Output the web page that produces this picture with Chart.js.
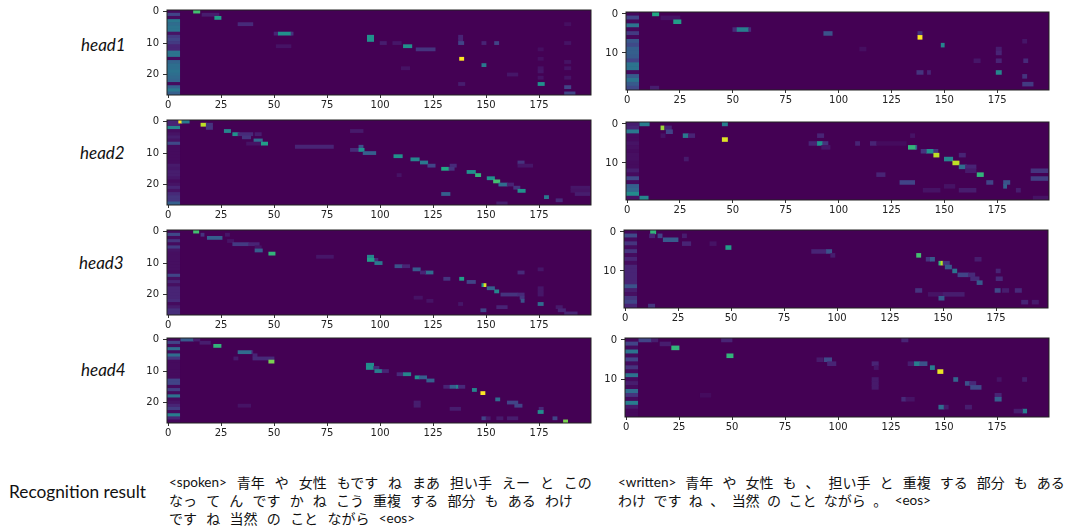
<!DOCTYPE html>
<html>
<head>
<meta charset="utf-8">
<script src="https://cdn.jsdelivr.net/npm/chart.js@4/dist/chart.umd.min.js"></script>
<style>
  html, body { margin: 0; background: #fff; }
  #page { position: relative; width: 1070px; height: 527px; overflow: hidden; }
  canvas { position: absolute; filter: blur(0.5px); }
  .head { position: absolute; font: italic 17px Lato, sans-serif; color: #111; }
  .label { position: absolute; font: 17.3px Lato, sans-serif; color: #111; white-space: nowrap; }
  .line { position: absolute; display: flex; justify-content: space-between; white-space: nowrap;
          font: 14px "Noto Sans CJK JP", sans-serif; line-height: 18px; color: #111; }
  .line .tag { font: 13.5px Lato, sans-serif; line-height: 18px; }
</style>
</head>
<body>
<div id="page"></div>
<script>
// tick labels
const xTicks = [0, 25, 50, 75, 100, 125, 150, 175];
const yTicksSpoken = [0, 10, 20];
const yTicksWritten = [0, 10];

// text
const headNames = ["head1", "head2", "head3", "head4"];
const resultLabel = "Recognition result";
const spokenLines = [
  ["<spoken>", "青年", "や", "女性", "もです", "ね", "まあ", "担い手", "えー", "と", "この"],
  ["なっ", "て", "ん", "です", "か", "ね", "こう", "重複", "する", "部分", "も", "ある", "わけ"],
  ["です", "ね", "当然", "の", "こと", "ながら", "<eos>"]
];
const writtenLines = [
  ["<written>", "青年", "や", "女性", "も", "、", "担い手", "と", "重複", "する", "部分", "も", "ある"],
  ["わけ", "です", "ね", "、", "当然", "の", "こと", "ながら", "。", "<eos>"]
];

// weight per row in the first few frames (row index = position)
const head1SpokenBand = [.02,.2,.03,.4,.35,.38,.38,.05,.17,.2,.17,.1,.1,.38,.38,.03,.32,.36,.36,.38,.36,.34,.32,.03,.3,.4,.3];
const head1WrittenBand = [.02,.2,.02,.38,.02,.17,.02,.27,.22,.3,.3,.28,.2,.38,.38,.03,.28,.38,.28,.22];
const head2SpokenBand = [.1,.1,.45,.03,.05,.08,.05,.22,.03,.03,.03,.03,.03,.03,.07,.06,.08,.08,.06,.03,.05,.1,.05,.12,.15,.15,.3];
const head2WrittenBand = [.08,.1,.4,.03,.03,.05,.04,.03,.04,.04,.03,.03,.08,.03,.22,.03,.3,.33,.48,.05];
const head3SpokenBand = [.02,.22,.03,.15,.03,.17,.05,.04,.04,.04,.04,.04,.04,.03,.2,.04,.1,.04,.1,.1,.1,.1,.12,.03,.07,.13,.13];
const head3WrittenBand = [.02,.22,.03,.15,.03,.15,.03,.1,.03,.1,.1,.1,.1,.1,.25,.08,.04,.15,.2,.1];
const head4SpokenBand = [.02,.2,.03,.35,.03,.35,.15,.03,.03,.03,.03,.03,.03,.2,.2,.03,.18,.03,.37,.03,.05,.1,.17,.03,.42,.1,.02];
const head4WrittenBand = [.02,.2,.03,.38,.03,.2,.03,.15,.03,.38,.03,.08,.03,.35,.15,.03,.42,.07,.02,.02];

// attention runs: [row, first frame, last frame, weight]
const head1Spoken = [
  [0,12,15,.7],[1,16,24,.08],[2,22,25,.55],[4,33,40,.12],[7,50,52,.1],[7,52,58,.5],[7,58,59,.15],
  [8,94,97,.5],[9,94,97,.5],[10,100,103,.08],[10,106,110,.06],[11,51,58,.05],[11,111,115,.5],
  [12,117,126,.15],[18,110,114,.05],[8,137,139,.1],[9,137,139,.1],[10,137,139.5,.2],[10,148,150,.1],
  [10,154,156,.2],[15,137.5,139.5,1],[17,148,150,.4],[20,160,165,.06],[23,174.5,177.5,.5],
  [23,137,140,.08],[24,187,190,.2],[26,187,192,.2],[12,174.5,177,.04],[15,174.5,177,.04],
  [18,174.5,177,.05],[19,174.5,177,.06],[21,174.5,177,.05],[4,187,190,.04],[10,187,190,.05],
  [16,187,190,.05],[18,187,190,.05],[21,187,190,.05]
];
const head1Written = [
  [0,12,15,.6],[1,16,25,.05],[2,22,25.5,.55],[4,50,52,.12],[4,52,57.5,.42],[4,57.5,58.5,.12],
  [5,93,97,.25],[5,137.5,139.5,.15],[6,137.5,139.5,1],[8,148.5,150,.45],[7,187,189,.06],
  [9,174.5,177,.08],[10,174.5,177,.1],[12,174.5,177,.1],[12,187.5,189.5,.12],[12,164,167,.06],
  [9,110,113,.04],[15,137,140,.15],[15,142,143.5,.1],[15,174.5,177,.45],[16,187,189,.15],
  [18,187,192,.17],[19,11,15,.08]
];
const head2Spoken = [
  [0,5,6.5,1],[0,6.5,10,.4],[1,15.5,18,.9],[1,18,21,.15],[2,18,21,.15],[3,26.5,29.5,.45],
  [3,86,92,.07],[4,30.5,33.5,.5],[4,33,40,.12],[4,41,44,.08],[5,35,39,.15],[6,40.5,44.5,.35],
  [7,37,44,.05],[7,44,47,.55],[8,60,78,.1],[8,90,92,.25],[9,86,90,.12],[9,90,92.5,.5],
  [10,92,98,.3],[11,106.5,110.5,.5],[12,114.5,118.5,.45],[13,119,122.5,.4],[13,165,168,.15],
  [14,122.5,126,.2],[14,133,136,.12],[14,165,172,.06],[15,129,132.5,.6],[15,132.5,135,.15],
  [16,141,145,.5],[17,145,147.5,.65],[17,108,110,.05],[18,150.5,154,.5],[19,153.5,156.5,.7],
  [20,156,160,.35],[20,160,163,.1],[21,163,166,.15],[21,190,199,.06],[22,165,168.5,.5],
  [22,190,199,.05],[23,129,133,.3],[23,192,199,.08],[24,177.5,179.5,.4],[25,183,186,.12],
  [26,155,160,.08]
];
const head2Written = [
  [0,6,10.5,.42],[0,45,47.5,.42],[1,16,17.5,.85],[1,18,21,.1],[2,18.5,21.5,.2],[3,26.5,29,.4],
  [3,29,32,.1],[3,16,18,.05],[3,90,93,.1],[3,134,136,.05],[4,45,47.5,.95],[5,86,90,.1],
  [5,90,92.5,.5],[5,92.5,95,.15],[5,108,110,.1],[5,115,118,.1],[5,118,132,.03],[6,92,96,.06],
  [6,133,136.5,.65],[6,136.5,137,.3],[7,141.5,145,.5],[7,139,141.5,.15],[7,145,147,.15],
  [8,145,147.5,.9],[8,157,160,.1],[9,150,154,.45],[9,27,29,.07],[10,154,157,.9],[11,157,160.5,.35],
  [11,160,165,.1],[12,160,165,.07],[12,191,199,.15],[13,165.5,168.5,.65],[13,118,122,.1],
  [14,191,199,.18],[15,129,136,.2],[15,170,173,.2],[15,178,181,.25],[16,178,179.5,.3],
  [16,150,155,.05],[17,184,186,.08],[17,140,148,.05],[17,157,165,.08],[19,6,10,.45],[19,192,199,.05]
];
const head3Spoken = [
  [0,12,14.5,.7],[1,15.5,17,.15],[1,27,29,.06],[2,18.5,25.5,.3],[3,28,31,.05],[4,30.5,38,.17],
  [4,38,43,.1],[5,41,44,.05],[6,41,44.5,.3],[7,47.5,50.5,.65],[8,70,78,.06],[8,94,97,.45],
  [9,94,97.5,.55],[9,97.5,99,.12],[10,97.5,101,.4],[11,107,110.5,.25],[11,110.5,114,.1],
  [12,115.5,119,.28],[13,121.5,125,.35],[13,119,121.5,.1],[13,165,168,.12],[15,130,133,.15],
  [15,137.5,139.5,.55],[16,141,145,.2],[17,148,149,.5],[17,149,150,.95],[18,150.5,154,.3],
  [19,154,156,.45],[20,157,165,.15],[20,165,168,.12],[21,166,168,.15],[22,166.5,168,.25],
  [23,174.5,177,.35],[12,174.5,177,.06],[18,174.5,177,.06],[19,174.5,177,.06],[20,174.5,177,.06],
  [25,147.5,150,.2],[24,155,160,.1],[24,183,186,.07],[25,184,187.5,.1],[26,187,193,.1],
  [23,137,139,.06],[21,116,120,.05],[22,122,125,.05]
];
const head3Written = [
  [0,12,14.5,.65],[1,15.5,17.5,.2],[1,11.5,14,.1],[1,27,29,.08],[2,18,25,.28],[3,27,31,.1],
  [3,40,43,.05],[4,47.5,50,.55],[5,88,95,.1],[5,95,97.5,.25],[6,97,99,.08],[6,137.5,139.5,.7],
  [7,142,144,.15],[7,144,146,.28],[7,165,168,.08],[8,148,149,.65],[8,149,150,.9],[8,150,153,.15],
  [9,151,154,.28],[10,154.5,156.5,.38],[10,175,177,.1],[11,157,162,.2],[11,162,165,.12],
  [12,163,167,.12],[12,175,178,.12],[13,166,168.5,.28],[15,137,140,.15],[15,174.5,177,.22],
  [15,178,181,.08],[15,184,187,.12],[16,143,150,.05],[16,150,160,.08],[17,148,150.5,.28],
  [18,187,190,.1],[18,192,195,.07],[19,11,14,.15]
];
const head4Spoken = [
  [0,6,12,.28],[0,12,15,.08],[1,15,20,.08],[2,21.5,25,.65],[4,33,39.5,.35],[4,39.5,40,.1],
  [5,40,42,.1],[6,31,33,.07],[6,40,50,.12],[7,47.5,50,.8],[8,93.5,97,.48],[9,93.5,97,.5],
  [9,97,99.5,.12],[10,97.5,101,.42],[10,101,104,.1],[11,108,111,.12],[11,111,114.5,.45],
  [12,116.5,118.5,.5],[12,118.5,122,.3],[13,122,125.5,.3],[15,130,133,.1],[15,133,136,.3],
  [15,136,137,.45],[15,137,140,.12],[16,143.5,145.5,.45],[17,147.5,149.5,1],[19,154.5,156.5,.35],
  [20,160,165,.2],[20,116,119,.08],[21,163.5,167,.2],[21,116,119,.08],[21,33,39,.05],
  [22,175,177,.12],[22,133,138,.08],[23,174.5,177,.48],[25,148,150,.2],[25,150,152,.07],
  [25,155,158,.07],[25,160,165,.08],[25,181.5,183.5,.2],[26,186.5,188.5,.8]
];
const head4Written = [
  [0,6,12,.2],[0,12,15,.08],[0,45,50,.1],[0,130,133,.1],[1,16,21,.08],[2,21.5,25,.65],
  [4,47.5,50.5,.65],[5,90,93,.07],[5,93.5,97,.22],[6,95,99,.1],[6,116,119,.1],[6,133,136,.08],
  [6,136,138.5,.42],[6,138.5,142,.25],[7,143.5,145.5,.42],[7,117,119,.06],[8,147,149.5,.97],
  [10,154.5,156.5,.32],[10,116,119,.07],[10,175,177,.05],[10,187,189,.08],[11,160,162.5,.25],
  [11,162,165,.12],[11,116,119,.07],[12,162.5,167.5,.22],[12,116,119,.07],[14,174,177,.1],
  [14,35,40,.03],[15,174,177,.3],[15,130,132,.12],[15,132,136,.05],[17,147.5,150,.35],
  [17,150,152,.07],[17,160,163,.08],[18,187,189,.42],[18,183,187,.08]
];

const viridis = ["#440154","#482475","#414487","#355f8d","#2a788e","#21918c","#22a884","#44bf70","#7ad151","#bddf26","#fde725"];

function viridisColor(v) {
  const p = Math.min(v, 1) * 10;
  const i = Math.min(Math.floor(p), 9);
  const t = p - i;
  const a = parseInt(viridis[i].slice(1), 16);
  const b = parseInt(viridis[i + 1].slice(1), 16);
  const ch = (s) => Math.round(((a >> s) & 255) * (1 - t) + ((b >> s) & 255) * t);
  return `rgb(${ch(16)},${ch(8)},${ch(0)})`;
}

// fills the plot with the colormap's zero and draws the frame
const framePlugin = {
  id: "frame",
  beforeDatasetsDraw(chart) {
    const { ctx, chartArea: a } = chart;
    ctx.save();
    ctx.fillStyle = viridis[0];
    ctx.fillRect(a.left, a.top, a.width, a.height);
    ctx.restore();
  },
  afterDatasetsDraw(chart) {
    const { ctx, chartArea: a } = chart;
    ctx.save();
    ctx.strokeStyle = "#222";
    ctx.lineWidth = 1;
    ctx.strokeRect(a.left, a.top, a.width, a.height);
    ctx.restore();
  },
};

const page = document.getElementById("page");

function drawPanel(band, runs, yTicks, left, top, width, height) {
  const padLeft = 30, padTop = 9, padRight = 12, axisBottom = 18;
  const canvas = document.createElement("canvas");
  canvas.width = width + padLeft + padRight;
  canvas.height = height + padTop + axisBottom;
  canvas.style.left = left - padLeft + "px";
  canvas.style.top = top - padTop + "px";
  page.appendChild(canvas);

  const bars = band.map((v, row) => ({ x: [-0.5, 5.5], y: row, v: v }));
  runs.forEach((r) => bars.push({ x: [r[1], r[2]], y: r[0], v: r[3] }));

  new Chart(canvas, {
    type: "bar",
    data: {
      datasets: [{
        data: bars,
        backgroundColor: (c) => viridisColor(c.raw.v),
        borderWidth: 0,
        barPercentage: 1,
        categoryPercentage: 1,
      }],
    },
    options: {
      indexAxis: "y",
      responsive: false,
      animation: false,
      devicePixelRatio: 1,
      layout: { padding: { top: padTop, right: padRight, left: 0, bottom: 0 } },
      plugins: { legend: { display: false }, tooltip: { enabled: false } },
      scales: {
        x: {
          type: "linear",
          min: -0.5,
          max: 199.5,
          afterBuildTicks: (s) => { s.ticks = xTicks.map((v) => ({ value: v })); },
          afterFit: (s) => { s.height = axisBottom; },
          grid: { drawOnChartArea: false, tickLength: 3, color: "#333" },
          border: { display: false },
          ticks: { color: "#222", font: { family: "DejaVu Sans", size: 10 }, padding: 1, maxRotation: 0, autoSkip: false },
        },
        y: {
          type: "linear",
          reverse: true,
          offset: false,
          min: -0.5,
          max: band.length - 0.5,
          afterBuildTicks: (s) => { s.ticks = yTicks.map((v) => ({ value: v })); },
          afterFit: (s) => { s.width = padLeft; },
          grid: { drawOnChartArea: false, offset: false, tickLength: 4, color: "#333" },
          border: { display: false },
          ticks: { color: "#222", font: { family: "DejaVu Sans", size: 10 }, padding: 4, autoSkip: false },
        },
      },
    },
    plugins: [framePlugin],
  });
}

drawPanel(head1SpokenBand, head1Spoken, yTicksSpoken, 167, 9, 424, 86);
drawPanel(head1WrittenBand, head1Written, yTicksWritten, 626, 11, 423, 79);
drawPanel(head2SpokenBand, head2Spoken, yTicksSpoken, 167, 119, 424, 86);
drawPanel(head2WrittenBand, head2Written, yTicksWritten, 626, 121, 423, 79);
drawPanel(head3SpokenBand, head3Spoken, yTicksSpoken, 167, 229, 424, 86);
drawPanel(head3WrittenBand, head3Written, yTicksWritten, 624, 229, 424, 79);
drawPanel(head4SpokenBand, head4Spoken, yTicksSpoken, 167, 337, 424, 86);
drawPanel(head4WrittenBand, head4Written, yTicksWritten, 625, 337, 424, 80);

// text labels
function addText(cls, text, left, top) {
  const el = document.createElement("div");
  el.className = cls;
  el.textContent = text;
  el.style.left = left + "px";
  el.style.top = top + "px";
  page.appendChild(el);
}
const headLefts = [81, 80, 79, 81];
const headTops = [34, 142, 252, 359];
headNames.forEach((n, i) => addText("head", n, headLefts[i], headTops[i]));
addText("label", resultLabel, 9, 481);

function addLine(words, left, right, top) {
  const el = document.createElement("div");
  el.className = "line";
  el.style.left = left + "px";
  el.style.width = right - left + "px";
  el.style.top = top + "px";
  words.forEach((w) => {
    const s = document.createElement("span");
    s.textContent = w;
    if (w.startsWith("<")) s.className = "tag";
    el.appendChild(s);
  });
  page.appendChild(el);
}
addLine(spokenLines[0], 169, 592, 473);
addLine(spokenLines[1], 169, 573, 491);
addLine(spokenLines[2], 169, 415, 509);
addLine(writtenLines[0], 618, 1065, 473);
addLine(writtenLines[1], 618, 931, 491);
</script>
</body>
</html>
